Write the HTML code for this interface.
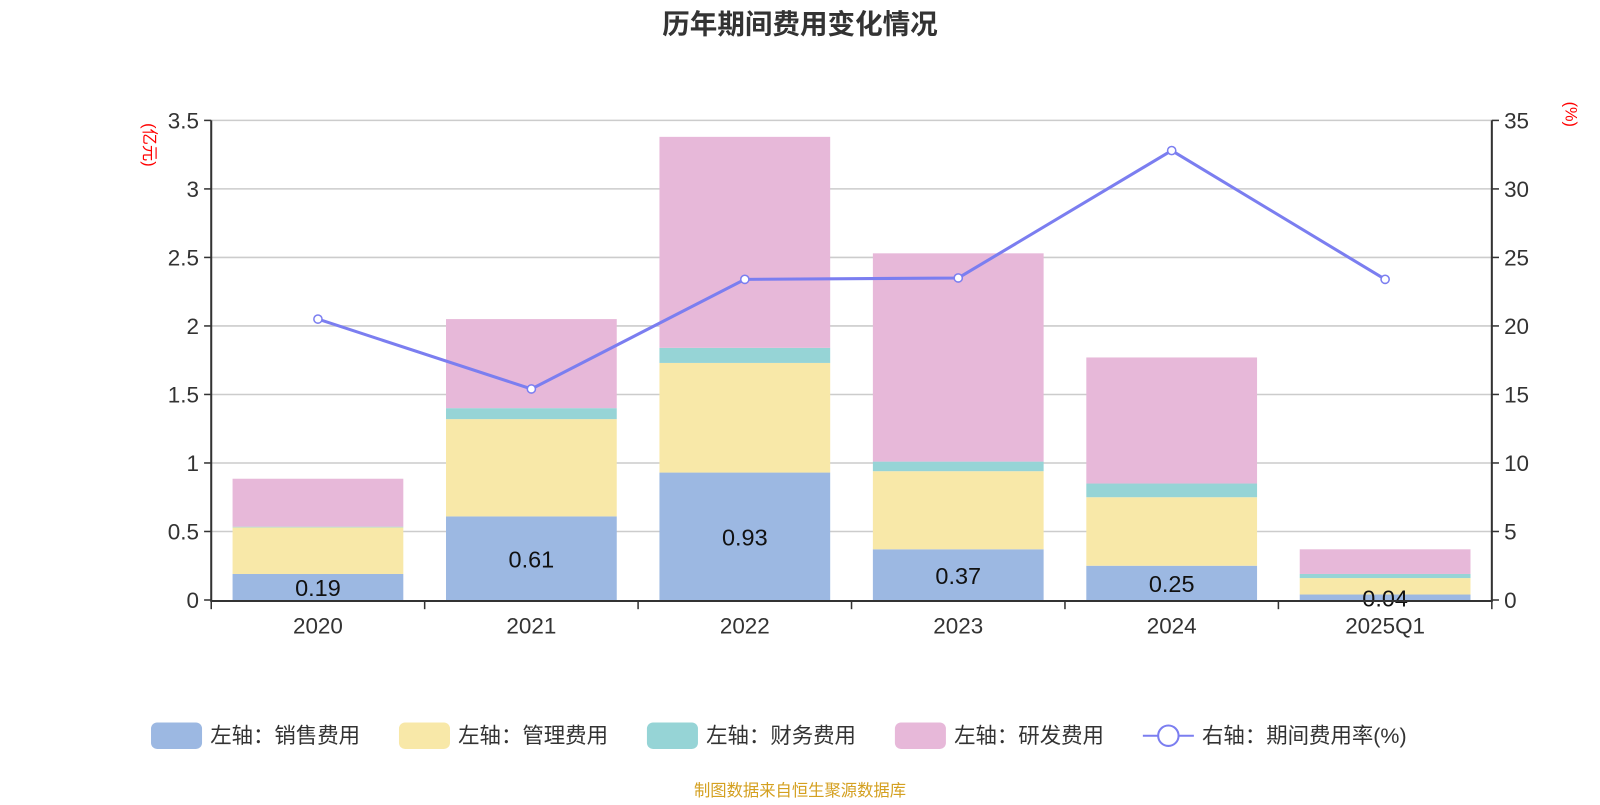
<!DOCTYPE html>
<html><head><meta charset="utf-8"><style>
body{margin:0;background:#fff;}
svg text{font-family:"Liberation Sans","Noto Sans CJK SC",sans-serif;}
</style></head><body>
<svg id="chart" width="1600" height="800" viewBox="0 0 1568 784" xmlns="http://www.w3.org/2000/svg">
<text x="784" y="33" text-anchor="middle" font-size="27" font-weight="bold" fill="#333">历年期间费用变化情况</text>
<text transform="translate(141,142) rotate(90)" text-anchor="middle" font-size="16" fill="#f00">(亿元)</text>
<text transform="translate(1534,112) rotate(90)" text-anchor="middle" font-size="16" fill="#f00">(%)</text>
<g id="grid"></g><g id="bars"></g><g id="axes"></g><g id="line"></g>
<g id="legend" font-size="21" fill="#333">
<g><rect x="148" y="708" width="50" height="26" rx="6" fill="#9cb8e2"/><text x="206" y="728">左轴：销售费用</text></g>
<g><rect x="391" y="708" width="50" height="26" rx="6" fill="#f8e8a8"/><text x="449" y="728">左轴：管理费用</text></g>
<g><rect x="634" y="708" width="50" height="26" rx="6" fill="#96d4d6"/><text x="692" y="728">左轴：财务费用</text></g>
<g><rect x="877" y="708" width="50" height="26" rx="6" fill="#e7b8d9"/><text x="935" y="728">左轴：研发费用</text></g>
<g><line x1="1120" y1="721" x2="1170" y2="721" stroke="#7b7ef0" stroke-width="2"/><circle cx="1145" cy="721" r="10" fill="#fff" stroke="#7b7ef0" stroke-width="2"/><text x="1178" y="728">右轴：期间费用率(%)</text></g>
</g>
<text x="784" y="780" text-anchor="middle" font-size="16" fill="#d4a020">制图数据来自恒生聚源数据库</text>
</svg>
<script>
const categories=["2020","2021","2022","2023","2024","2025Q1"];
const sales=[0.19,0.61,0.93,0.37,0.25,0.04];
const mgmt=[0.34,0.71,0.80,0.57,0.50,0.12];
const finance=[0.005,0.08,0.11,0.07,0.10,0.03];
const rd=[0.35,0.65,1.54,1.52,0.92,0.18];
const rate=[20.5,15.4,23.4,23.5,32.8,23.4];
const leftTicks=["0","0.5","1","1.5","2","2.5","3","3.5"];
const rightTicks=["0","5","10","15","20","25","30","35"];
const NS="http://www.w3.org/2000/svg";
const x0=207,x1=1462,yB=588,yT=118;
const band=(x1-x0)/categories.length;
const xc=i=>x0+band*(i+0.5);
const yL=v=>yB-v/3.5*(yB-yT);
const yR=v=>yB-v/35*(yB-yT);
function mk(tag,attrs,parent,txt){const e=document.createElementNS(NS,tag);for(const k in attrs)e.setAttribute(k,attrs[k]);if(txt!==undefined)e.textContent=txt;document.getElementById(parent).appendChild(e);return e;}
leftTicks.forEach((t,i)=>{const v=parseFloat(t);const y=yL(v);
 if(v>0){const g=mk('line',{x1:x0,x2:x1,y1:y,y2:y,stroke:'#ccc','stroke-width':1.5},'grid');}
 mk('line',{x1:x0-7,x2:x0,y1:y,y2:y,stroke:'#333','stroke-width':1.5},'axes');
 const a=mk('text',{x:x0-12,y:y+8,'text-anchor':'end','font-size':22,fill:'#333'},'axes',t);});
rightTicks.forEach(t=>{const y=yR(parseFloat(t));
 mk('line',{x1:x1,x2:x1+7,y1:y,y2:y,stroke:'#333','stroke-width':1.5},'axes');
 const a=mk('text',{x:x1+12,y:y+8,'font-size':22,fill:'#333'},'axes',t);});
mk('line',{x1:x0,x2:x0,y1:yT,y2:yB+2,stroke:'#333','stroke-width':2},'axes');
mk('line',{x1:x1,x2:x1,y1:yT,y2:yB+2,stroke:'#333','stroke-width':2},'axes');
mk('line',{x1:x0,x2:x1,y1:yB+1,y2:yB+1,stroke:'#333','stroke-width':2},'axes');
for(let i=0;i<=categories.length;i++){const x=x0+band*i;mk('line',{x1:x,x2:x,y1:yB,y2:yB+9,stroke:'#333','stroke-width':1.5},'axes');}
categories.forEach((c,i)=>{const a=mk('text',{x:xc(i),y:621,'text-anchor':'middle','font-size':22,fill:'#333'},'axes',c);});
const series=[[sales,'#9cb8e2','bar-sales'],[mgmt,'#f8e8a8','bar-mgmt'],[finance,'#96d4d6','bar-finance'],[rd,'#e7b8d9','bar-rd']];
const bw=band*0.8;
categories.forEach((c,i)=>{let acc=0;series.forEach(([arr,col,nm])=>{const y0=yL(acc),y1v=yL(acc+arr[i]);acc+=arr[i];
 const r=mk('rect',{x:xc(i)-bw/2,y:y1v,width:bw,height:y0-y1v,fill:col},'bars');});
 const l=mk('text',{x:xc(i),y:(yL(0)+yL(sales[i]))/2+9,'text-anchor':'middle','font-size':23,fill:'#111'},'bars',sales[i].toFixed(2));});
const pts=rate.map((v,i)=>xc(i)+','+yR(v)).join(' ');
const pl=mk('polyline',{points:pts,fill:'none',stroke:'#7b7ef0','stroke-width':3},'line');
rate.forEach((v,i)=>{const p=mk('circle',{cx:xc(i),cy:yR(v),r:4,fill:'#fff',stroke:'#7b7ef0','stroke-width':1.5},'line');});
</script>
</body></html>
